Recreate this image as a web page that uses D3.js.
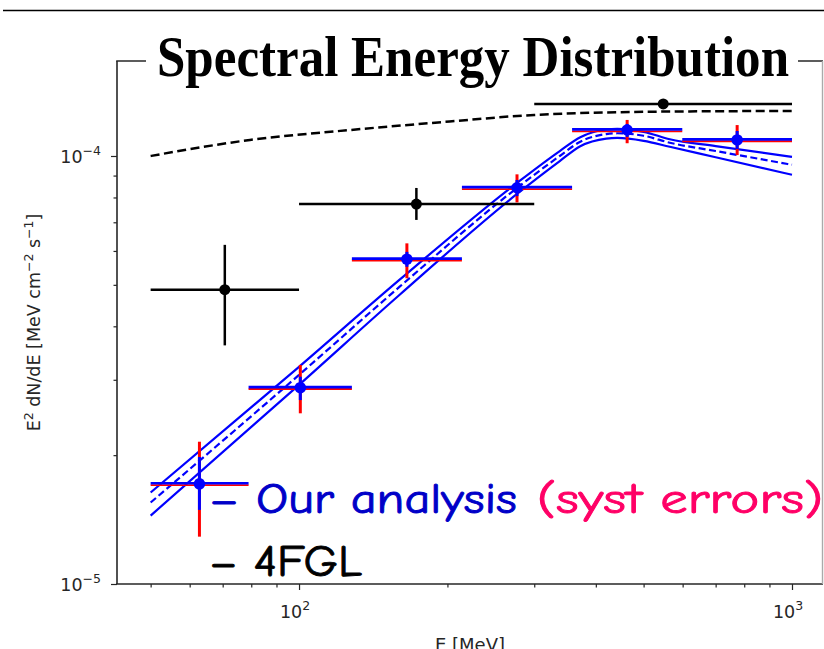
<!DOCTYPE html>
<html>
<head>
<meta charset="utf-8">
<script src="https://cdn.jsdelivr.net/npm/d3@7"></script>
<style>
  body { margin: 0; background: #fff; }
  svg { display: block; }
</style>
</head>
<body>
<div id="chart"></div>
<script>
// 4FGL catalogue points (bins, flux, vertical error)
var fglLo = [50, 100, 300],
    fglHi = [100, 300, 1000],
    fglE = [70.7, 173, 548],
    fglVal = [4.87e-5, 7.72e-5, 1.323e-4],
    fglErrLo = [3.61e-5, 7.09e-5, 1.323e-4],
    fglErrHi = [6.2e-5, 8.42e-5, 1.323e-4];

// 4FGL model curve
var fglModelE = [50, 79.5, 127, 202, 300, 558, 1000],
    fglModelVal = [1.0e-4, 1.09e-4, 1.15e-4, 1.204e-4, 1.247e-4, 1.27e-4, 1.274e-4];

// our analysis: bins, flux, stat and syst errors
var binLo = [50, 79, 128, 214, 358, 599],
    binHi = [79, 128, 214, 358, 599, 1000],
    binE = [62.8, 100.6, 165.5, 276.8, 463, 774],
    binVal = [1.714e-5, 2.875e-5, 5.74e-5, 8.43e-5, 1.15e-4, 1.09e-4],
    statLo = [1.49e-5, 2.69e-5, 5.51e-5, 8.06e-5, 1.108e-4, 1.038e-4],
    statHi = [1.98e-5, 3.05e-5, 5.97e-5, 8.79e-5, 1.188e-4, 1.144e-4],
    systLo = [1.29e-5, 2.505e-5, 5.18e-5, 7.79e-5, 1.071e-4, 1.005e-4],
    systHi = [2.15e-5, 3.25e-5, 6.25e-5, 9.06e-5, 1.214e-4, 1.181e-4];

// our model and its band
var modelE = [50, 100, 160, 276, 338, 372, 420, 442, 500, 565, 700, 1000],
    modelVal = [1.55e-5, 3.08e-5, 4.95e-5, 8.4e-5, 1.0e-4, 1.08e-4, 1.125e-4, 1.13e-4, 1.115e-4, 1.074e-4, 1.027e-4, 9.54e-5],
    bandHi = [1.636e-5, 3.216e-5, 5.14e-5, 8.63e-5, 1.027e-4, 1.106e-4, 1.153e-4, 1.157e-4, 1.139e-4, 1.094e-4, 1.055e-4, 9.95e-5],
    bandLo = [1.445e-5, 2.919e-5, 4.74e-5, 8.13e-5, 9.73e-5, 1.054e-4, 1.098e-4, 1.102e-4, 1.085e-4, 1.051e-4, 9.93e-5, 9.04e-5];

var xMajor = [100, 1000],
    xMinor = [50, 60, 70, 80, 90, 200, 300, 400, 500, 600, 700, 800, 900],
    yMajor = [1e-5, 1e-4],
    yMinor = [2e-5, 3e-5, 4e-5, 5e-5, 6e-5, 7e-5, 8e-5, 9e-5],
    xLabels = ["2", "3"],
    yLabels = ["\u22125", "\u22124"];

var svgWidth = 824,
    svgHeight = 649,
    axLeft = 117,
    axRight = 823,
    axTop = 61,
    axBottom = 584,
    axisColor = "#262626",
    tickFont = "DejaVu Sans, sans-serif";

var x = d3.scaleLog().domain([42.73, 1155.8]).range([axLeft, axRight]);
var y = d3.scaleLog().domain([1e-5, 1.667e-4]).range([axBottom, axTop]);

var svg = d3.select("#chart").append("svg")
    .attr("width", svgWidth)
    .attr("height", svgHeight);

// slide rule at the top
svg.append("line")
    .attr("x1", 3).attr("x2", svgWidth)
    .attr("y1", 10.5).attr("y2", 10.5)
    .attr("stroke", "#000")
    .attr("stroke-width", 1.5);

// axes
var xAxis = svg.append("g").attr("transform", "translate(0," + axBottom + ")");
xAxis.call(d3.axisBottom(x).tickValues(xMajor).tickSize(6).tickFormat(""));
xAxis.append("g").call(d3.axisBottom(x).tickValues(xMinor).tickSize(3.5).tickFormat(""));
xAxis.selectAll(".domain").remove();
xAxis.selectAll("line").attr("stroke", axisColor).attr("stroke-width", 1.2);

var yAxis = svg.append("g").attr("transform", "translate(" + axLeft + ",0)");
yAxis.call(d3.axisLeft(y).tickValues(yMajor).tickSize(6).tickFormat(""));
yAxis.append("g").call(d3.axisLeft(y).tickValues(yMinor).tickSize(3.5).tickFormat(""));
yAxis.selectAll(".domain").remove();
yAxis.selectAll("line").attr("stroke", axisColor).attr("stroke-width", 1.2);

// tick labels with superscripts
xMajor.forEach(function(v, i) {
    var t = svg.append("text")
        .attr("x", x(v) - 4)
        .attr("y", 618)
        .attr("text-anchor", "middle")
        .style("font-family", tickFont)
        .style("font-size", "17.5px")
        .attr("fill", axisColor);
    t.append("tspan").text("10");
    t.append("tspan").attr("dy", -8).style("font-size", "12.5px").text(xLabels[i]);
});
yMajor.forEach(function(v, i) {
    var t = svg.append("text")
        .attr("x", 101)
        .attr("y", y(v) + 7)
        .attr("text-anchor", "end")
        .style("font-family", tickFont)
        .style("font-size", "17.5px")
        .attr("fill", axisColor);
    t.append("tspan").text("10");
    t.append("tspan").attr("dy", -8).style("font-size", "12.5px").text(yLabels[i]);
});

// axis titles
svg.append("text")
    .attr("x", (axLeft + axRight) / 2)
    .attr("y", 651)
    .attr("text-anchor", "middle")
    .style("font-family", tickFont)
    .style("font-size", "18px")
    .attr("fill", axisColor)
    .text("E [MeV]");

var yt = svg.append("text")
    .attr("transform", "translate(40," + ((axTop + axBottom) / 2) + ") rotate(-90)")
    .attr("text-anchor", "middle")
    .style("font-family", tickFont)
    .style("font-size", "17.5px")
    .attr("fill", axisColor);
yt.append("tspan").text("E");
yt.append("tspan").attr("dy", -7).style("font-size", "12.5px").text("2");
yt.append("tspan").attr("dy", 7).text(" dN/dE [MeV cm");
yt.append("tspan").attr("dy", -7).style("font-size", "12.5px").text("\u22122");
yt.append("tspan").attr("dy", 7).text(" s");
yt.append("tspan").attr("dy", -7).style("font-size", "12.5px").text("\u22121");
yt.append("tspan").attr("dy", 7).text("]");

// spines
svg.append("line").attr("x1", axLeft).attr("x2", axLeft).attr("y1", axTop).attr("y2", axBottom)
    .attr("stroke", axisColor).attr("stroke-width", 1.6);
svg.append("line").attr("x1", axLeft - 0.8).attr("x2", axRight).attr("y1", axBottom).attr("y2", axBottom)
    .attr("stroke", axisColor).attr("stroke-width", 1.6);
svg.append("line").attr("x1", axLeft - 0.8).attr("x2", axRight).attr("y1", axTop).attr("y2", axTop)
    .attr("stroke", axisColor).attr("stroke-width", 1.6);
svg.append("line").attr("x1", axRight - 0.5).attr("x2", axRight - 0.5).attr("y1", axTop).attr("y2", axBottom)
    .attr("stroke", "#aaa").attr("stroke-width", 1.4);

var plot = svg.append("g");

var line = d3.line()
    .x(function(d) { return x(d[0]); })
    .y(function(d) { return y(d[1]); })
    .curve(d3.curveMonotoneX);

// 4FGL model
plot.append("path")
    .attr("d", line(d3.zip(fglModelE, fglModelVal)))
    .attr("fill", "none")
    .attr("stroke", "#000")
    .attr("stroke-width", 2.5)
    .attr("stroke-dasharray", "9,4.5");

// our model band
[bandHi, bandLo].forEach(function(b) {
    plot.append("path")
        .attr("d", line(d3.zip(modelE, b)))
        .attr("fill", "none")
        .attr("stroke", "#0000ff")
        .attr("stroke-width", 2.2);
});
plot.append("path")
    .attr("d", line(d3.zip(modelE, modelVal)))
    .attr("fill", "none")
    .attr("stroke", "#0000ff")
    .attr("stroke-width", 2.2)
    .attr("stroke-dasharray", "7,3.5");

// 4FGL points
var fgl = d3.range(fglE.length);
plot.selectAll(".fglh").data(fgl).enter().append("line")
    .attr("x1", function(i) { return x(fglLo[i]); })
    .attr("x2", function(i) { return x(fglHi[i]); })
    .attr("y1", function(i) { return y(fglVal[i]); })
    .attr("y2", function(i) { return y(fglVal[i]); })
    .attr("stroke", "#000").attr("stroke-width", 2.5);
plot.selectAll(".fglv").data(fgl).enter().append("line")
    .attr("x1", function(i) { return x(fglE[i]); })
    .attr("x2", function(i) { return x(fglE[i]); })
    .attr("y1", function(i) { return y(fglErrLo[i]); })
    .attr("y2", function(i) { return y(fglErrHi[i]); })
    .attr("stroke", "#000").attr("stroke-width", 2.5);
plot.selectAll(".fglp").data(fgl).enter().append("circle")
    .attr("cx", function(i) { return x(fglE[i]); })
    .attr("cy", function(i) { return y(fglVal[i]); })
    .attr("r", 5.5)
    .attr("fill", "#000");

// our points: syst (red) under stat (blue)
var pts = d3.range(binE.length);
plot.selectAll(".sysh").data(pts).enter().append("line")
    .attr("x1", function(i) { return x(binLo[i]); })
    .attr("x2", function(i) { return x(binHi[i]); })
    .attr("y1", function(i) { return y(binVal[i]) + 1.3; })
    .attr("y2", function(i) { return y(binVal[i]) + 1.3; })
    .attr("stroke", "#ff0000").attr("stroke-width", 1.8);
plot.selectAll(".sysv").data(pts).enter().append("line")
    .attr("x1", function(i) { return x(binE[i]); })
    .attr("x2", function(i) { return x(binE[i]); })
    .attr("y1", function(i) { return y(systLo[i]); })
    .attr("y2", function(i) { return y(systHi[i]); })
    .attr("stroke", "#ff0000").attr("stroke-width", 3);
plot.selectAll(".stath").data(pts).enter().append("line")
    .attr("x1", function(i) { return x(binLo[i]); })
    .attr("x2", function(i) { return x(binHi[i]); })
    .attr("y1", function(i) { return y(binVal[i]) - 0.6; })
    .attr("y2", function(i) { return y(binVal[i]) - 0.6; })
    .attr("stroke", "#0000ff").attr("stroke-width", 2.6);
plot.selectAll(".statv").data(pts).enter().append("line")
    .attr("x1", function(i) { return x(binE[i]); })
    .attr("x2", function(i) { return x(binE[i]); })
    .attr("y1", function(i) { return y(statLo[i]); })
    .attr("y2", function(i) { return y(statHi[i]); })
    .attr("stroke", "#0000ff").attr("stroke-width", 3);
plot.selectAll(".pt").data(pts).enter().append("circle")
    .attr("cx", function(i) { return x(binE[i]); })
    .attr("cy", function(i) { return y(binVal[i]); })
    .attr("r", 5.8)
    .attr("fill", "#0000ff");

// title over the top spine
svg.append("rect")
    .attr("x", 146).attr("y", 30)
    .attr("width", 652).attr("height", 60)
    .attr("fill", "#fff");
svg.append("text")
    .attr("x", 157)
    .attr("y", 76)
    .attr("textLength", 632)
    .attr("lengthAdjust", "spacingAndGlyphs")
    .style("font-family", "'Liberation Serif', 'Times New Roman', serif")
    .style("font-weight", "bold")
    .style("font-size", "57px")
    .attr("fill", "#000")
    .text("Spectral Energy Distribution");

// legend text
var legendFont = "'Comic Sans MS', 'Comic Neue', 'Noto Sans', sans-serif";
svg.append("text")
    .attr("x", 209).attr("y", 513)
    .attr("textLength", 308)
    .attr("lengthAdjust", "spacingAndGlyphs")
    .style("font-family", legendFont)
    .style("font-size", "42px")
    .attr("fill", "#0000c8")
    .attr("stroke", "#0000c8")
    .attr("stroke-width", 0.9)
    .text("\u2013 Our analysis");
svg.append("text")
    .attr("x", 537).attr("y", 513)
    .attr("textLength", 286)
    .attr("lengthAdjust", "spacingAndGlyphs")
    .style("font-family", legendFont)
    .style("font-size", "42px")
    .attr("fill", "#ff0066")
    .attr("stroke", "#ff0066")
    .attr("stroke-width", 0.9)
    .text("(syst errors)");
svg.append("text")
    .attr("x", 209).attr("y", 576)
    .attr("textLength", 153)
    .attr("lengthAdjust", "spacingAndGlyphs")
    .style("font-family", legendFont)
    .style("font-size", "44px")
    .attr("fill", "#000")
    .attr("stroke", "#000")
    .attr("stroke-width", 0.9)
    .text("\u2013 4FGL");
</script>
</body>
</html>
